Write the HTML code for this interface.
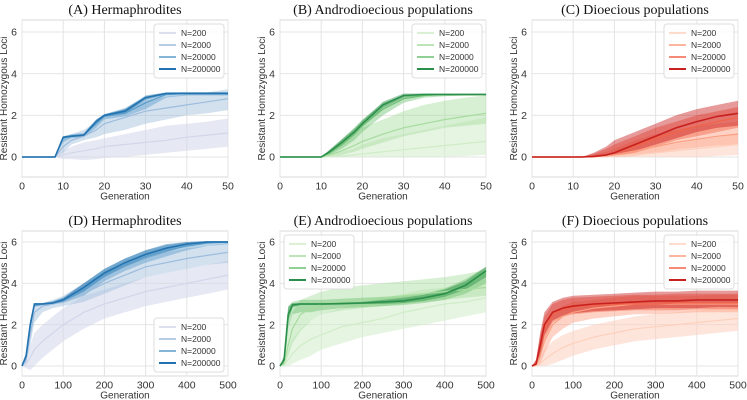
<!DOCTYPE html>
<html><head><meta charset="utf-8"><style>
body{margin:0;background:#fff;}
svg{display:block;font-family:"Liberation Sans",sans-serif;}
</style></head><body>
<svg id="c" width="747" height="400"></svg>
<script>
const seriesNames = ["N=200","N=2000","N=20000","N=200000"];
const xTop = [0,8,10,12,15,18,20,25,30,35,40,45,50];
const xBot = [0,10,20,30,50,75,100,150,200,250,300,350,400,450,500];
const topTicksX = [0,10,20,30,40,50];
const botTicksX = [0,100,200,300,400,500];
const ticksY = [0,2,4,6];

const aMean = [[0,0,0.1,0.2,0.3,0.4,0.5,0.6,0.7,0.8,0.95,1.05,1.15],[0,0,0.5,0.8,1.0,1.3,1.6,1.9,2.2,2.35,2.5,2.65,2.8],[0,0,0.9,1.0,1.05,1.6,1.95,2.1,2.6,3.0,3.05,3.05,3.05],[0,0,0.95,1.0,1.05,1.7,2.0,2.2,2.85,3.05,3.05,3.05,3.05]];
const aLo = [[0,0,-0.1,-0.1,-0.15,-0.1,-0.05,0,0.1,0.2,0.3,0.4,0.5],[0,0,0.2,0.6,0.8,0.95,1.1,1.3,1.6,1.8,2.0,2.1,2.25],[0,0,0.7,0.9,0.95,1.4,1.8,1.95,2.3,2.85,2.95,2.95,2.95],[0,0,0.9,0.95,1.0,1.6,1.95,2.1,2.75,3.0,3.0,3.0,3.0]];
const aHi = [[0,0,0.3,0.5,0.7,0.8,0.9,1.1,1.3,1.5,1.6,1.7,1.85],[0,0,0.9,1.1,1.3,1.7,2.0,2.3,2.7,2.9,3.0,3.1,3.25],[0,0,1.0,1.1,1.15,1.8,2.05,2.35,2.9,3.1,3.12,3.12,3.12],[0,0,1.0,1.05,1.1,1.8,2.05,2.3,2.95,3.1,3.1,3.1,3.1]];

const bMean = [[0,0,0,0.02,0.05,0.1,0.15,0.25,0.35,0.45,0.55,0.65,0.75],[0,0,0,0.1,0.3,0.55,0.75,1.1,1.4,1.6,1.8,1.95,2.1],[0,0,0,0.2,0.6,1.1,1.5,2.3,2.8,2.95,3.0,3.0,3.0],[0,0,0,0.25,0.7,1.2,1.6,2.5,2.95,3.0,3.0,3.0,3.0]];
const bLo = [[0,0,0,0,0,0,0,0,0,0,0.02,0.05,0.1],[0,0,0,0,0.1,0.25,0.4,0.7,1.0,1.2,1.4,1.5,1.6],[0,0,0,0.1,0.4,0.8,1.2,2.0,2.6,2.85,2.92,2.95,2.95],[0,0,0,0.15,0.55,1.05,1.45,2.35,2.85,2.95,2.95,2.95,2.95]];
const bHi = [[0,0,0,0.1,0.25,0.4,0.6,0.9,1.1,1.3,1.5,1.7,1.9],[0,0,0,0.3,0.7,1.1,1.4,1.8,2.2,2.5,2.7,2.85,2.95],[0,0,0,0.3,0.85,1.4,1.8,2.6,2.95,3.05,3.05,3.05,3.05],[0,0,0,0.35,0.85,1.35,1.75,2.65,3.05,3.05,3.05,3.05,3.05]];

const cMean = [[0,0,0,0,0,0.02,0.05,0.1,0.2,0.3,0.4,0.5,0.6],[0,0,0,0,0.02,0.05,0.1,0.3,0.5,0.7,0.85,1.0,1.1],[0,0,0,0,0.03,0.1,0.2,0.5,0.9,1.2,1.5,1.7,1.9],[0,0,0,0,0.03,0.1,0.2,0.6,1.0,1.4,1.7,1.95,2.1]];
const cLo = [[0,0,0,0,0,0,0,0,0,0,0,0.05,0.1],[0,0,0,0,0,0,0,0.05,0.2,0.35,0.45,0.55,0.6],[0,0,0,0,0,0,0.05,0.2,0.5,0.8,1.0,1.2,1.4],[0,0,0,0,0,0,0.1,0.3,0.6,0.9,1.2,1.4,1.5]];
const cHi = [[0,0,0,0,0.05,0.1,0.2,0.35,0.5,0.65,0.8,0.95,1.1],[0,0,0,0,0.1,0.25,0.4,0.8,1.1,1.3,1.5,1.6,1.7],[0,0,0,0,0.15,0.4,0.6,1.0,1.4,1.7,2.0,2.2,2.4],[0,0,0,0,0.2,0.5,0.8,1.2,1.6,2.0,2.3,2.5,2.7]];

const dMean = [[0,0.1,0.4,0.8,1.2,1.6,2.0,2.6,3.0,3.3,3.6,3.8,4.0,4.2,4.4],[0,0.3,1.5,2.6,2.9,3.0,3.1,3.5,4.0,4.4,4.8,5.0,5.2,5.35,5.5],[0,0.45,1.9,2.95,3.0,3.05,3.15,3.7,4.4,4.9,5.3,5.6,5.8,5.95,6.0],[0,0.5,2.0,3.0,3.0,3.05,3.2,3.8,4.5,5.0,5.4,5.7,5.9,6.0,6.0]];
const dLo = [[0,-0.1,-0.2,0,0.4,0.8,1.2,1.8,2.3,2.6,2.9,3.1,3.3,3.5,3.7],[0,0.1,1.0,2.1,2.6,2.8,2.9,3.1,3.5,3.9,4.3,4.5,4.7,4.9,5.0],[0,0.3,1.7,2.85,2.95,3.0,3.05,3.4,4.1,4.6,5.0,5.3,5.6,5.8,5.9],[0,0.35,1.8,2.9,2.95,3.0,3.1,3.6,4.3,4.8,5.2,5.5,5.8,5.95,5.95]];
const dHi = [[0,0.4,1.0,1.6,2.0,2.4,2.8,3.4,3.7,4.0,4.3,4.5,4.7,4.9,5.1],[0,0.6,2.0,2.95,3.05,3.2,3.4,4.0,4.5,4.9,5.2,5.5,5.7,5.8,5.95],[0,0.6,2.2,3.05,3.05,3.15,3.3,4.0,4.7,5.2,5.6,5.85,6.0,6.05,6.05],[0,0.65,2.2,3.05,3.05,3.1,3.3,4.0,4.7,5.2,5.6,5.9,6.0,6.05,6.05]];

const eMean = [[0,0.05,0.3,0.6,1.0,1.3,1.5,1.9,2.1,2.3,2.6,2.8,3.0,3.1,3.3],[0,0.2,1.0,1.8,2.5,2.8,3.0,3.1,3.2,3.3,3.4,3.5,3.6,3.7,3.8],[0,0.3,2.3,2.9,3.0,3.0,3.0,3.02,3.05,3.1,3.15,3.25,3.45,3.85,4.5],[0,0.3,2.5,2.95,3.0,3.0,3.0,3.02,3.05,3.1,3.15,3.3,3.5,3.9,4.6]];
const eLo = [[0,0,0,0.1,0.3,0.5,0.8,1.1,1.4,1.6,1.8,2.0,2.2,2.4,2.6],[0,0,0.5,1.1,1.7,2.2,2.5,2.7,2.8,2.9,3.0,3.1,3.2,3.3,3.4],[0,0.1,1.8,2.5,2.6,2.6,2.7,2.8,2.85,2.9,2.95,3.05,3.2,3.5,4.0],[0,0.1,2.2,2.85,2.95,2.95,2.95,2.97,3.0,3.0,3.05,3.15,3.35,3.7,4.3]];
const eHi = [[0,0.2,0.8,1.3,1.8,2.2,2.5,2.8,3.1,3.3,3.5,3.7,3.8,4.0,4.2],[0,0.5,1.8,2.6,3.2,3.4,3.6,3.8,3.9,4.0,4.1,4.2,4.3,4.45,4.65],[0,0.5,2.9,3.1,3.2,3.2,3.2,3.25,3.3,3.35,3.4,3.5,3.75,4.2,4.8],[0,0.5,2.85,3.05,3.05,3.05,3.05,3.07,3.1,3.2,3.3,3.45,3.7,4.1,4.8]];

const fMean = [[0,0,0.1,0.3,0.6,0.9,1.1,1.4,1.6,1.8,1.9,2.0,2.1,2.2,2.3],[0,0.05,0.5,1.2,2.0,2.4,2.6,2.8,2.9,3.0,3.0,3.0,3.0,3.0,3.0],[0,0.1,0.9,1.8,2.5,2.75,2.85,2.95,3.0,3.0,3.0,3.05,3.05,3.05,3.05],[0,0.1,1.0,2.0,2.6,2.8,2.9,3.0,3.05,3.1,3.15,3.15,3.2,3.2,3.2]];
const fLo = [[0,0,0,0,0.1,0.3,0.5,0.8,1.0,1.2,1.3,1.4,1.5,1.6,1.7],[0,0,0.1,0.6,1.4,1.8,2.1,2.3,2.4,2.5,2.5,2.55,2.6,2.6,2.6],[0,0,0.4,1.3,2.1,2.4,2.5,2.6,2.65,2.7,2.7,2.7,2.75,2.75,2.75],[0,0,0.5,1.5,2.2,2.45,2.55,2.65,2.7,2.75,2.8,2.8,2.8,2.85,2.85]];
const fHi = [[0,0.05,0.4,0.8,1.2,1.5,1.7,2.0,2.2,2.4,2.5,2.6,2.7,2.8,2.9],[0,0.2,1.0,1.9,2.6,2.9,3.1,3.2,3.3,3.4,3.4,3.4,3.4,3.45,3.45],[0,0.3,1.5,2.4,3.0,3.2,3.3,3.35,3.4,3.45,3.45,3.5,3.5,3.5,3.5],[0,0.3,1.6,2.6,3.1,3.3,3.4,3.45,3.5,3.55,3.6,3.6,3.65,3.65,3.65]];

const svg=document.getElementById('c');
const NS='http://www.w3.org/2000/svg';
function mk(t,a,p){const e=document.createElementNS(NS,t);for(const k in a)e.setAttribute(k,a[k]);(p||svg).appendChild(e);return e;}

const pal={blue:["#d2d6ea","#9dbcdc","#5b9dcb","#2373b0"],green:["#d0ecc8","#a6dc9e","#6cc072","#2a8f4a"],red:["#fdd0bd","#fc9e80","#f26448","#c8201f"]};
const panels=[
 {id:'a',t:'(A) Hermaphrodites',L:22,T:20,B:177,xs:xTop,xmax:50,ticks:topTicksX,m:aMean,lo:aLo,hi:aHi,c:'blue',leg:'tr'},
 {id:'b',t:'(B) Androdioecious populations',L:280,T:20,B:177,xs:xTop,xmax:50,ticks:topTicksX,m:bMean,lo:bLo,hi:bHi,c:'green',leg:'tr'},
 {id:'c',t:'(C) Dioecious populations',L:532,T:20,B:177,xs:xTop,xmax:50,ticks:topTicksX,m:cMean,lo:cLo,hi:cHi,c:'red',leg:'tr'},
 {id:'d',t:'(D) Hermaphrodites',L:22,T:231,B:376,xs:xBot,xmax:500,ticks:botTicksX,m:dMean,lo:dLo,hi:dHi,c:'blue',leg:'br'},
 {id:'e',t:'(E) Androdioecious populations',L:280,T:231,B:376,xs:xBot,xmax:500,ticks:botTicksX,m:eMean,lo:eLo,hi:eHi,c:'green',leg:'tl'},
 {id:'f',t:'(F) Dioecious populations',L:532,T:231,B:376,xs:xBot,xmax:500,ticks:botTicksX,m:fMean,lo:fLo,hi:fHi,c:'red',leg:'tr'}
];
const W=206;
panels.forEach(p=>{
 const g=mk('g',{});
 
 
 const y6=p.T===20?32:242, y0=p.T===20?157:366;
 const X=v=>p.L+v/p.xmax*W;
 const Y=v=>y0+(y6-y0)*v/6;
 const fr=mk('rect',{x:p.L,y:p.T,width:W,height:p.B-p.T,fill:'#fff',stroke:'#d8d8d8','stroke-width':1},g);
 
 
 p.ticks.forEach(t=>{
  mk('line',{x1:X(t),x2:X(t),y1:p.T,y2:p.B,stroke:'#e4e4e4'},g);
  const tx=mk('text',{x:X(t),y:p.B+12.5,'font-size':10.5,fill:'#333','text-anchor':'middle'},g);tx.textContent=t;
  
  
 });
 ticksY.forEach(t=>{
  mk('line',{x1:p.L,x2:p.L+W,y1:Y(t),y2:Y(t),stroke:'#e4e4e4'},g);
  const tx=mk('text',{x:p.L-5,y:Y(t)+3.7,'font-size':10.5,fill:'#333','text-anchor':'end'},g);tx.textContent=t;
  
  
 });
 const xl=mk('text',{x:p.L+W/2,y:p.B+22.5,'font-size':10,fill:'#333','text-anchor':'middle'},g);xl.textContent='Generation';
 
 
 const yc=(p.T+p.B)/2;
 const yl=mk('text',{x:p.L-15,y:yc,'font-size':10,fill:'#333','text-anchor':'middle',transform:`rotate(-90 ${p.L-15} ${yc})`},g);yl.textContent='Resistant Homozygous Loci';
 
 
 const tt=mk('text',{x:p.L+W/2,y:p.T-6,'font-size':14,fill:'#111','text-anchor':'middle','font-family':'"Liberation Serif",serif'},g);tt.textContent=p.t;
 
 
 const cols=pal[p.c];
 for(let s=0;s<4;s++){
  let d='';
  p.xs.forEach((x,i)=>{d+=(i?'L':'M')+X(x).toFixed(1)+','+Y(p.hi[s][i]).toFixed(1);});
  for(let i=p.xs.length-1;i>=0;i--)d+='L'+X(p.xs[i]).toFixed(1)+','+Y(p.lo[s][i]).toFixed(1);
  const b=mk('path',{d:d+'Z',fill:cols[s],'fill-opacity':s===0?0.55:0.45,stroke:'none'},g);
  
  
 }
 for(let s=0;s<4;s++){
  const pts=p.xs.map((x,i)=>X(x).toFixed(1)+','+Y(p.m[s][i]).toFixed(1)).join(' ');
  const l=mk('polyline',{points:pts,fill:'none',stroke:cols[s],'stroke-width':s===3?1.6:1.2},g);
  
  
 }
 const lw=70,lh=54;
 let lx=p.leg==='tl'?p.L+4:p.L+W-lw-4;
 let ly=p.leg==='br'?p.B-lh-4:p.T+4;
 const lg=mk('g',{},g);
 
 
 mk('rect',{x:lx,y:ly,width:lw,height:lh,rx:3,fill:'#fff','fill-opacity':0.85,stroke:'#ddd'},lg);
 for(let s=0;s<4;s++){
  const yy=ly+9+s*12;
  mk('line',{x1:lx+5,x2:lx+22,y1:yy,y2:yy,stroke:cols[s],'stroke-width':s===3?2:1.5},lg);
  const t=mk('text',{x:lx+27,y:yy+3,'font-size':8.5,fill:'#333'},lg);t.textContent=seriesNames[s];
  
  
 }
});
</script>
</body></html>
